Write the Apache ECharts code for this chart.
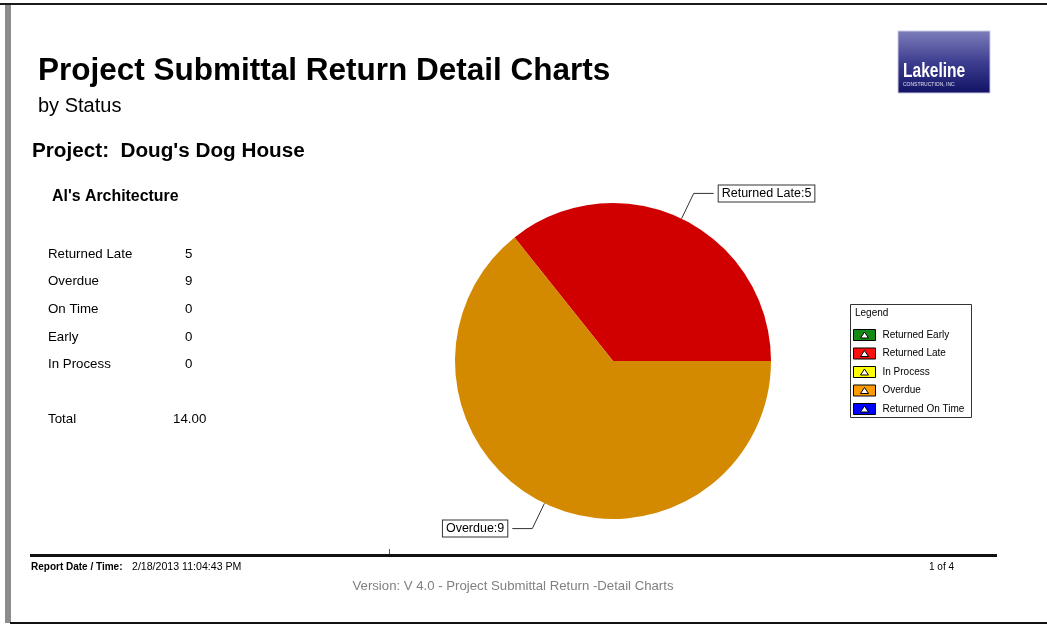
<!DOCTYPE html>
<html>
<head>
<meta charset="utf-8">
<script src="https://cdn.jsdelivr.net/npm/echarts@6/dist/echarts.min.js"></script>
<style>
html,body{margin:0;padding:0;background:#fff;}
#c{width:1047px;height:625px;}
</style>
</head>
<body>
<div id="c"></div>
<script>
// ---- data ----
const reportTitle = "Project Submittal Return Detail Charts";
const reportSubtitle = "by Status";
const projectLine = "Project:  Doug's Dog House";
const companyName = "Al's Architecture";
const tableLabels = ["Returned Late", "Overdue", "On Time", "Early", "In Process"];
const tableValues = [5, 9, 0, 0, 0];
const totalLabel = "Total";
const totalValue = "14.00";
const pieCategories = ["Returned Early", "Returned Late", "In Process", "Overdue", "Returned On Time"];
const pieValues = [0, 5, 0, 9, 0];
const pieColors = ["#1f7a1f", "#d10000", "#e8e800", "#d38a00", "#1010d0"];
const legendColors = ["#138a13", "#ff1010", "#ffff00", "#ff9a00", "#0000ff"];
const footerLeftLabel = "Report Date / Time:";
const footerLeftValue = "2/18/2013 11:04:43 PM";
const footerPage = "1 of 4";
const footerVersion = "Version: V 4.0 - Project Submittal Return -Detail Charts";

const FONT = "'Liberation Sans', Arial, sans-serif";
const chart = echarts.init(document.getElementById('c'), null, {renderer: 'canvas'});

const graphics = [];
const mid = 'middle';
// page borders
graphics.push({type:'rect', shape:{x:0,y:3,width:1047,height:2}, style:{fill:'#1a1a1a'}, silent:true});
graphics.push({type:'rect', shape:{x:5,y:5,width:6,height:618}, style:{fill:'#8c8c8c'}, silent:true});
graphics.push({type:'rect', shape:{x:10,y:622,width:1037,height:2}, style:{fill:'#111'}, silent:true});
// titles
graphics.push({type:'text', x:38, y:71, style:{text:reportTitle, font:"bold 31.5px " + FONT, fill:'#000', textVerticalAlign:mid}});
graphics.push({type:'text', x:38, y:106, style:{text:reportSubtitle, font:"20px " + FONT, fill:'#000', textVerticalAlign:mid}});
graphics.push({type:'text', x:32, y:151, style:{text:projectLine, font:"bold 20.7px " + FONT, fill:'#000', textVerticalAlign:mid}});
graphics.push({type:'text', x:52, y:197, style:{text:companyName, font:"bold 15.9px " + FONT, fill:'#000', textVerticalAlign:mid}});
// table
const rowY = [254, 281, 309, 337, 364];
tableLabels.forEach((l, i) => {
  graphics.push({type:'text', x:48, y:rowY[i], style:{text:l, font:"13.3px " + FONT, fill:'#000', textVerticalAlign:mid}});
  graphics.push({type:'text', x:185, y:rowY[i], style:{text:String(tableValues[i]), font:"13.3px " + FONT, fill:'#000', textVerticalAlign:mid}});
});
graphics.push({type:'text', x:48, y:419, style:{text:totalLabel, font:"13.3px " + FONT, fill:'#000', textVerticalAlign:mid}});
graphics.push({type:'text', x:173, y:419, style:{text:totalValue, font:"13.3px " + FONT, fill:'#000', textVerticalAlign:mid}});
// logo
graphics.push({type:'rect', shape:{x:898,y:31,width:92,height:62}, style:{
  fill:{type:'linear', x:0, y:0, x2:0, y2:1, colorStops:[{offset:0,color:'#7e7ebc'},{offset:0.5,color:'#3e3e90'},{offset:1,color:'#121264'}]},
  stroke:'#c8c8e4', lineWidth:1}});
graphics.push({type:'group', x:903, y:71, scaleX:0.74, z:10, children:[
  {type:'text', x:0, y:0, z:10, style:{text:'Lakeline', font:"bold 21px " + FONT, fill:'#fff', textVerticalAlign:mid}}
]});
graphics.push({type:'text', x:903, y:85, style:{text:'CONSTRUCTION, INC', font:"5px " + FONT, fill:'#e0e0f0', textVerticalAlign:mid}});
// legend box
graphics.push({type:'rect', shape:{x:850.5,y:304.5,width:121,height:113}, style:{fill:'#fff', stroke:'#333', lineWidth:1}, z:-1});
graphics.push({type:'text', x:855, y:313, style:{text:'Legend', font:"10px " + FONT, fill:'#000', textVerticalAlign:mid}});
// footer
graphics.push({type:'rect', shape:{x:30,y:554,width:967,height:3}, style:{fill:'#111'}});
graphics.push({type:'rect', shape:{x:389,y:549,width:1,height:5}, style:{fill:'#555'}});
graphics.push({type:'text', x:31, y:567, style:{text:footerLeftLabel, font:"bold 10px " + FONT, fill:'#000', textVerticalAlign:mid}});
graphics.push({type:'text', x:132, y:567, style:{text:footerLeftValue, font:"10.6px " + FONT, fill:'#000', textVerticalAlign:mid}});
graphics.push({type:'text', x:929, y:567, style:{text:footerPage, font:"10px " + FONT, fill:'#000', textVerticalAlign:mid}});
graphics.push({type:'text', x:513, y:586, style:{text:footerVersion, font:"13.2px " + FONT, fill:'#808080', textAlign:'center', textVerticalAlign:mid}});

const iconPath = 'path://M0,0L22,0L22,11L0,11ZM11,2.5L7,8.5L15,8.5Z';

const option = {
  animation: false,
  backgroundColor: '#fff',
  graphic: graphics,
  legend: {
    orient: 'vertical',
    left: 848,
    top: 324,
    itemWidth: 22,
    itemHeight: 11,
    itemGap: 6.5,
    selectedMode: false,
    icon: iconPath,
    textStyle: {fontSize: 10, fontFamily: FONT, color: '#000', padding:[0,0,0,2]},
    itemStyle: {borderColor: '#000', borderWidth: 1},
    data: pieCategories.map((n, i) => ({name: n, itemStyle: {color: legendColors[i], borderColor:'#000', borderWidth:1}}))
  },
  series: [{
    type: 'pie',
    center: [613, 361],
    radius: 158,
    startAngle: 0,
    clockwise: false,
    minAngle: 0,
    avoidLabelOverlap: false,
    itemStyle: {borderWidth: 0},
    emphasis: {disabled: true},
    label: {
      show: true,
      position: 'outside',
      formatter: '{b}:{c}',
      fontSize: 12.5,
      fontFamily: FONT,
      color: '#000',
      backgroundColor: '#fff',
      borderColor: '#333',
      borderWidth: 1,
      padding: [2, 3, 1, 3]
    },
    labelLine: {show: true, length: 28, length2: 20, lineStyle: {color: '#333', width: 1}},
    data: pieCategories.map((n, i) => ({
      name: n,
      value: pieValues[i],
      itemStyle: {color: pieColors[i]},
      label: {show: pieValues[i] > 0},
      labelLine: {show: pieValues[i] > 0}
    }))
  }]
};
chart.setOption(option);
</script>
</body>
</html>
